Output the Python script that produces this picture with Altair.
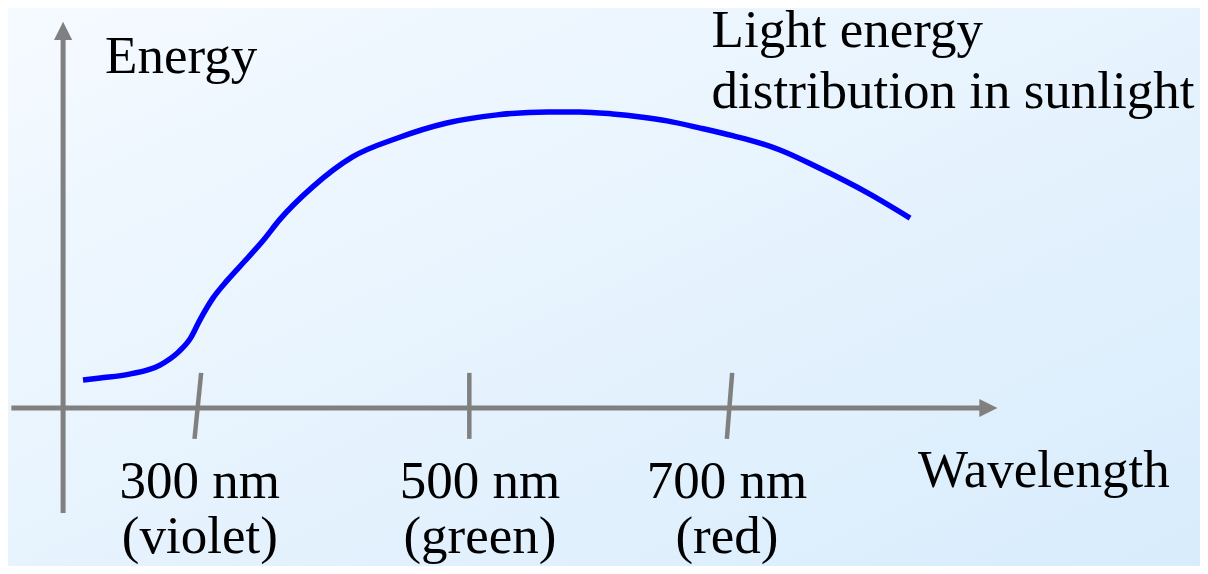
import altair as alt
import pandas as pd

# ---- data ----
# sunlight energy curve (wavelength in nm, energy in arbitrary units)
curve_nm = [213, 226, 248, 271, 285, 294, 301, 311, 322, 337, 349, 361, 386, 416,
            450, 487, 525, 563, 587, 612, 633, 653, 678, 703, 723, 738, 766, 804, 836]
curve_energy = [9.3, 10.0, 11.3, 14.3, 18.7, 23.3, 29.3, 36.7, 42.7, 50.0, 56.0, 62.7,
                73.7, 83.7, 90.0, 95.0, 97.7, 98.7, 98.7, 98.0, 97.0, 95.7, 93.3, 90.7,
                88.3, 86.0, 80.3, 71.7, 63.3]

# wavelength ticks and their labels
tick_nm = [300, 500, 700]
tick_top_nm = [302, 504, 702]
tick_bottom_nm = [297, 504, 698]
label_nm = [301, 512, 698]
tick_labels = [["300 nm", "(violet)"], ["500 nm", "(green)"], ["700 nm", "(red)"]]

# axis extents (data units)
x_axis_nm = [159, 895]
y_axis_energy = [-35, 125.7]
axis_origin_nm = 198
tick_top_e = 11.7
tick_bottom_e = -10.3

# annotation texts
y_title = "Energy"
x_title = "Wavelength"
curve_title = ["Light energy", "distribution in sunlight"]

# ---- scales ----
X_DOMAIN = [156.5, 1054.4]
Y_DOMAIN = [-52.67, 133.33]
xs = alt.Scale(domain=X_DOMAIN, nice=False, zero=False)
ys = alt.Scale(domain=Y_DOMAIN, nice=False, zero=False)
W, H = 1192, 558
FONT = "Liberation Serif"
FS = 53
GREY = "#808080"

bg = alt.Chart(pd.DataFrame({"a": [0]})).mark_rect(
    color=alt.Gradient(
        gradient="linear",
        stops=[alt.GradientStop(color="#f5faff", offset=0),
               alt.GradientStop(color="#d8ecfc", offset=1)],
        x1=0, y1=0, x2=1, y2=1),
).encode(x=alt.value(0), x2=alt.value(W), y=alt.value(0), y2=alt.value(H))

# axes lines
hline = alt.Chart(pd.DataFrame({"x": [x_axis_nm[0]], "x2": [x_axis_nm[1]], "y": [0]})).mark_rule(
    color=GREY, strokeWidth=5).encode(
    x=alt.X("x:Q", scale=xs, axis=None), x2="x2:Q", y=alt.Y("y:Q", scale=ys, axis=None))
vline = alt.Chart(pd.DataFrame({"x": [axis_origin_nm], "y": [y_axis_energy[0]], "y2": [y_axis_energy[1]]})).mark_rule(
    color=GREY, strokeWidth=5).encode(
    x=alt.X("x:Q", scale=xs, axis=None), y=alt.Y("y:Q", scale=ys, axis=None), y2="y2:Q")

right_arrow = alt.Chart(pd.DataFrame({"x": [x_axis_nm[1]], "y": [0]})).mark_point(
    shape="M1,0L-1,-1L-1,1Z", filled=True, size=330, color=GREY, opacity=1).encode(
    x=alt.X("x:Q", scale=xs, axis=None), y=alt.Y("y:Q", scale=ys, axis=None))
up_arrow = alt.Chart(pd.DataFrame({"x": [axis_origin_nm], "y": [y_axis_energy[1]]})).mark_point(
    shape="M0,-1L1,1L-1,1Z", filled=True, size=330, color=GREY, opacity=1).encode(
    x=alt.X("x:Q", scale=xs, axis=None), y=alt.Y("y:Q", scale=ys, axis=None))

ticks_df = pd.DataFrame({
    "top": tick_top_nm, "bottom": tick_bottom_nm,
    "yt": [tick_top_e] * 3, "yb": [tick_bottom_e] * 3,
})
ticks = alt.Chart(ticks_df).mark_rule(color=GREY, strokeWidth=4.5).encode(
    x=alt.X("top:Q", scale=xs, axis=None), x2="bottom:Q",
    y=alt.Y("yt:Q", scale=ys, axis=None), y2="yb:Q")

curve = alt.Chart(pd.DataFrame({"nm": curve_nm, "e": curve_energy})).mark_line(
    color="#0000ff", strokeWidth=5.5, interpolate="monotone").encode(
    x=alt.X("nm:Q", scale=xs, axis=None), y=alt.Y("e:Q", scale=ys, axis=None), order="nm:Q")

label_df = pd.DataFrame({"nm": label_nm, "e": [-30.0] * 3, "t": tick_labels})
labels = alt.Chart(label_df).mark_text(
    font=FONT, fontSize=FS, align="center", baseline="alphabetic", lineHeight=55, color="black").encode(
    x=alt.X("nm:Q", scale=xs, axis=None), y=alt.Y("e:Q", scale=ys, axis=None), text="t")

ytitle = alt.Chart(pd.DataFrame({"nm": [229.6], "e": [111.7], "t": [y_title]})).mark_text(
    font=FONT, fontSize=FS, align="left", baseline="alphabetic", color="black").encode(
    x=alt.X("nm:Q", scale=xs, axis=None), y=alt.Y("e:Q", scale=ys, axis=None), text="t")

xtitle = alt.Chart(pd.DataFrame({"nm": [842.0], "e": [-26.3], "t": [x_title]})).mark_text(
    font=FONT, fontSize=FS, align="left", baseline="alphabetic", color="black").encode(
    x=alt.X("nm:Q", scale=xs, axis=None), y=alt.Y("e:Q", scale=ys, axis=None), text="t")

ctitle = alt.Chart(pd.DataFrame({"nm": [686.5], "e": [120.3], "t": [curve_title]})).mark_text(
    font=FONT, fontSize=FS, align="left", baseline="alphabetic", lineHeight=61, color="black").encode(
    x=alt.X("nm:Q", scale=xs, axis=None), y=alt.Y("e:Q", scale=ys, axis=None), text="t")

chart = alt.layer(bg, hline, vline, right_arrow, up_arrow, ticks, curve, labels, ytitle, xtitle, ctitle).properties(
    width=W, height=H, padding=0, autosize=alt.AutoSizeParams(type="none"),
).configure_view(stroke=None).configure(background="#eef7ff")

chart.save("out.html", embed_options={"renderer": "svg", "actions": False})
